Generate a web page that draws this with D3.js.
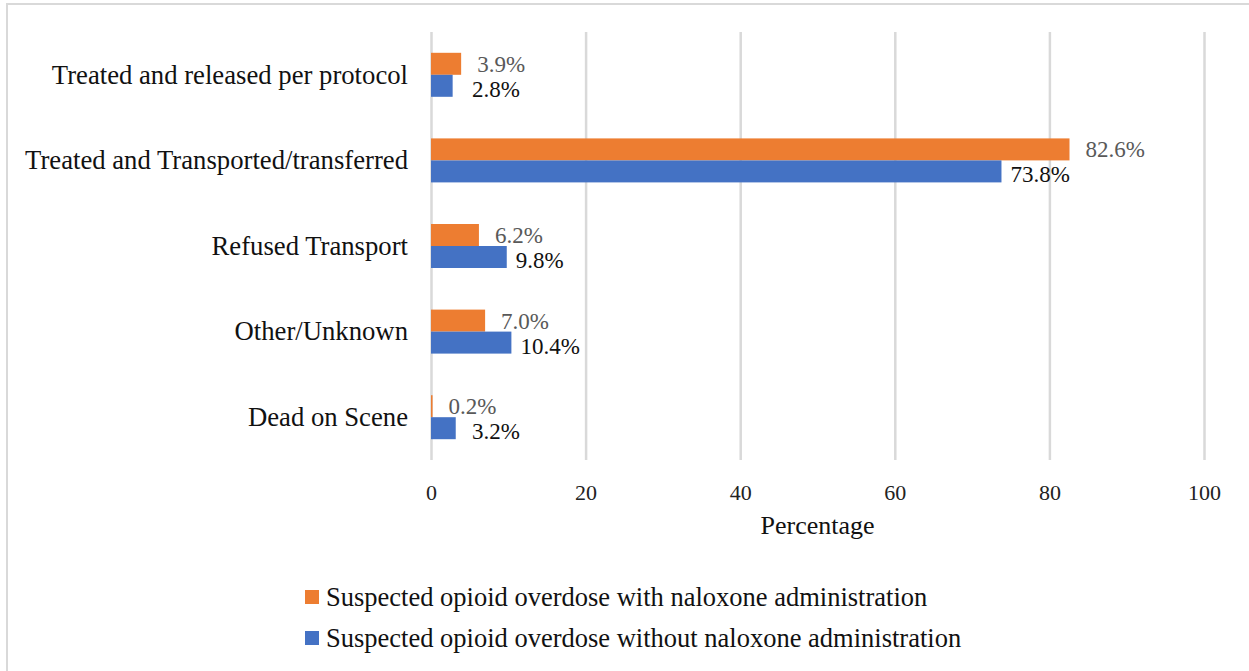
<!DOCTYPE html>
<html>
<head>
<meta charset="utf-8">
<script src="https://cdn.jsdelivr.net/npm/d3@7"></script>
<style>
  html, body { margin: 0; padding: 0; background: #fff; }
  svg { display: block; }
  svg text { font-family: "Liberation Serif", "Times New Roman", serif !important; }
</style>
</head>
<body>
<svg id="chart" width="1249" height="671"></svg>
<script>
// Patient disposition by naloxone administration (percent of encounters)
const categories = [
  "Treated and released per protocol",
  "Treated and Transported/transferred",
  "Refused Transport",
  "Other/Unknown",
  "Dead on Scene"
];
const seriesNames = [
  "Suspected opioid overdose with naloxone administration",
  "Suspected opioid overdose without naloxone administration"
];
const withNaloxone = [3.9, 82.6, 6.2, 7.0, 0.2];
const withoutNaloxone = [2.8, 73.8, 9.8, 10.4, 3.2];
const tickValues = [0, 20, 40, 60, 80, 100];
const axisTitle = "Percentage";

const colors = ["#ED7D31", "#4472C4"];
const labelColors = ["#595959", "#111111"];
const seriesValues = [withNaloxone, withoutNaloxone];
const serif = '"Liberation Serif", "Times New Roman", serif';

const svg = d3.select("#chart").attr("font-family", serif);

// outer frame
svg.append("rect")
  .attr("x", 7).attr("y", 4)
  .attr("width", 1300).attr("height", 800)
  .attr("fill", "#fff")
  .attr("stroke", "#d9d9d9")
  .attr("stroke-width", 2);

const plot = { left: 431, right: 1204, top: 32, bottom: 460 };

const x = d3.scaleLinear().domain([0, 100]).range([plot.left, plot.right]);
const y0 = d3.scaleBand().domain(categories)
  .range([plot.top, plot.bottom])
  .paddingInner(0.486).paddingOuter(0.243);
const y1 = d3.scaleBand().domain(seriesNames).range([0, y0.bandwidth()]);

// vertical gridlines
const grid = svg.append("g")
  .attr("transform", `translate(0,${plot.bottom})`)
  .call(d3.axisBottom(x).tickValues(tickValues)
    .tickSize(-(plot.bottom - plot.top)).tickFormat(""));
grid.select(".domain").remove();
grid.selectAll(".tick line").attr("stroke", "#d9d9d9").attr("stroke-width", 2.5);

// tick labels
const axis = svg.append("g")
  .attr("transform", `translate(0,${plot.bottom})`)
  .call(d3.axisBottom(x).tickValues(tickValues).tickSize(0).tickPadding(24)
    .tickFormat(d3.format("d")));
axis.attr("font-family", serif).attr("font-size", 22);
axis.select(".domain").remove();
axis.selectAll(".tick text")
  .attr("font-family", serif)
  .attr("font-size", 22)
  .attr("fill", "#222");

// axis title
svg.append("text")
  .attr("x", (plot.left + plot.right) / 2)
  .attr("y", 534)
  .attr("text-anchor", "middle")
  .attr("font-family", serif)
  .attr("font-size", 26)
  .attr("fill", "#111")
  .text(axisTitle);

// category labels
svg.append("g").selectAll("text")
  .data(categories)
  .join("text")
  .attr("x", 408)
  .attr("y", d => y0(d) + y0.bandwidth() / 2)
  .attr("dy", "0.33em")
  .attr("text-anchor", "end")
  .attr("font-family", serif)
  .attr("font-size", 26.7)
  .attr("fill", "#111")
  .text(d => d);

// bars
const rows = categories.map((c, i) => ({
  category: c,
  values: seriesNames.map((s, j) => ({ series: s, idx: j, value: seriesValues[j][i] }))
}));

const groups = svg.append("g").selectAll("g")
  .data(rows)
  .join("g")
  .attr("transform", d => `translate(0,${y0(d.category)})`);

groups.selectAll("rect")
  .data(d => d.values)
  .join("rect")
  .attr("x", x(0))
  .attr("y", d => y1(d.series))
  .attr("width", d => x(d.value) - x(0))
  .attr("height", y1.bandwidth())
  .attr("fill", d => colors[d.idx]);

// value labels
groups.selectAll("text")
  .data(d => d.values)
  .join("text")
  .attr("x", d => d.idx === 0
    ? x(d.value) + 16
    : Math.max(x(d.value) + 9, x(0) + 41))
  .attr("y", d => y1(d.series) + y1.bandwidth() / 2 + (d.idx === 0 ? 0 : 3))
  .attr("dy", "0.35em")
  .attr("font-family", serif)
  .attr("font-size", 23)
  .attr("fill", d => labelColors[d.idx])
  .text(d => d3.format(".1f")(d.value) + "%");

// legend
const legend = svg.append("g").selectAll("g")
  .data(seriesNames)
  .join("g")
  .attr("transform", (d, i) => `translate(305,${597 + i * 41})`);
legend.append("rect")
  .attr("x", 0).attr("y", -7)
  .attr("width", 14).attr("height", 14)
  .attr("fill", (d, i) => colors[i]);
legend.append("text")
  .attr("x", 21)
  .attr("dy", "0.33em")
  .attr("font-family", serif)
  .attr("font-size", 26.5)
  .attr("fill", "#111")
  .text(d => d);
</script>
</body>
</html>
